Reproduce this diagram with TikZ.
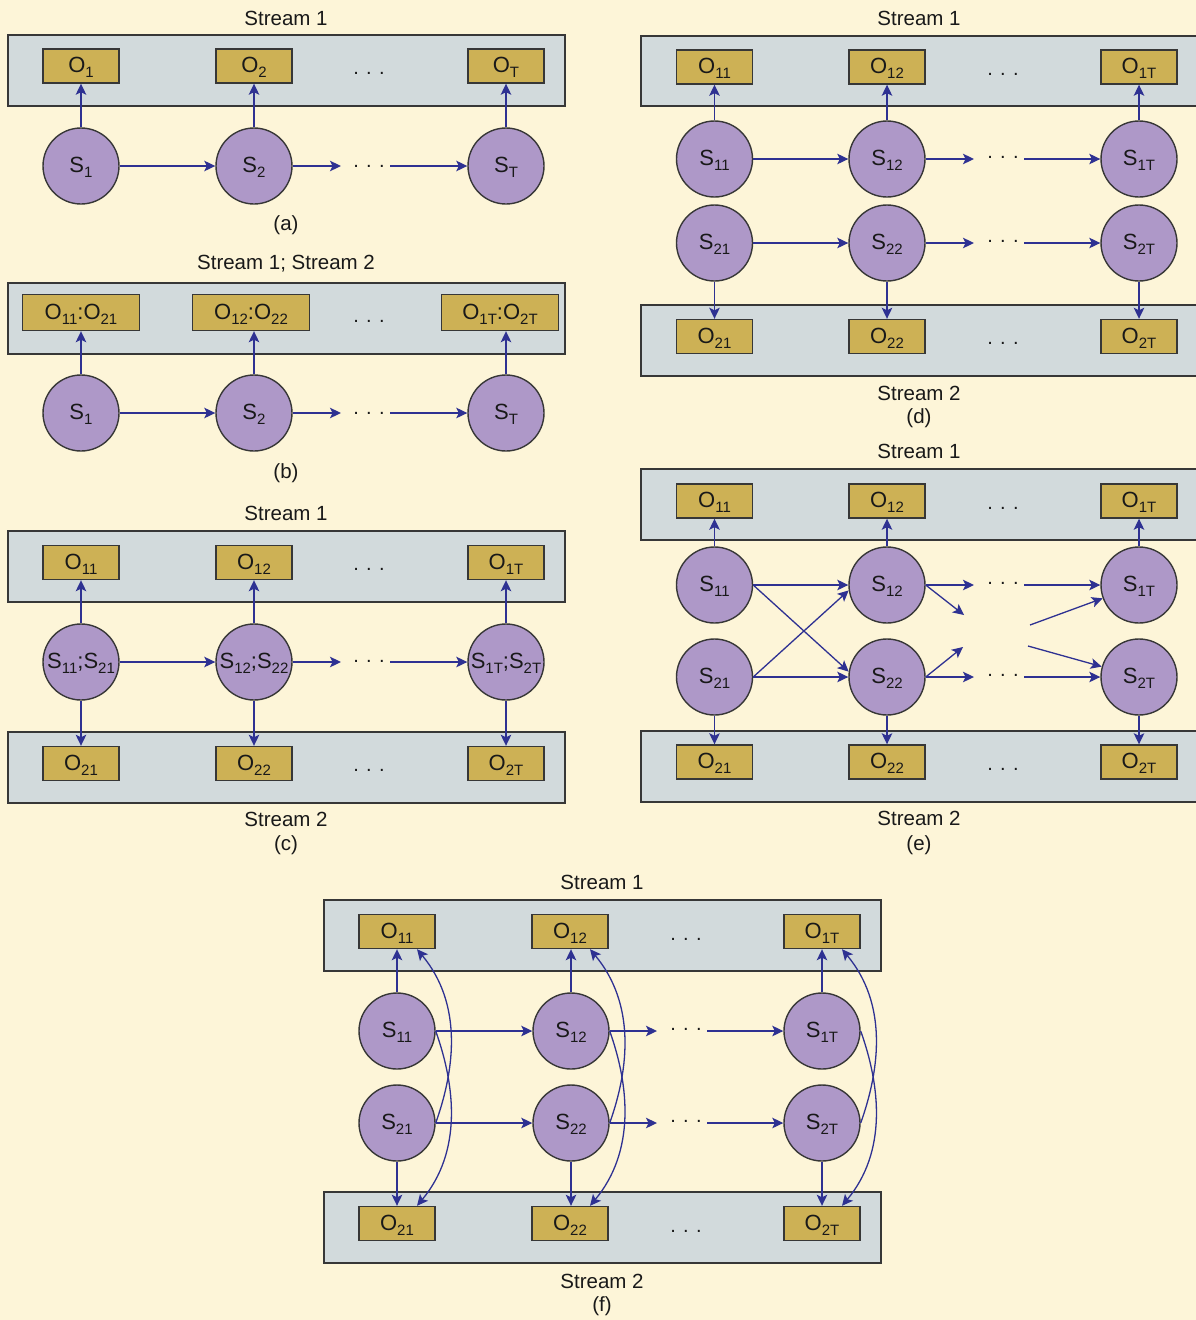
\documentclass[tikz,border=0pt]{standalone}
\usepackage{fontspec}
\setmainfont{Liberation Sans}
\usetikzlibrary{arrows.meta}
\definecolor{bgc}{RGB}{253,245,216}
\definecolor{gryc}{RGB}{210,218,220}
\definecolor{goldc}{RGB}{205,177,85}
\definecolor{lavc}{RGB}{174,152,200}
\definecolor{navyc}{RGB}{46,49,146}
\definecolor{edgec}{RGB}{55,55,55}
\newcommand\sbx[1]{\raisebox{-5pt}{\fontsize{15}{15}\selectfont #1}}
\begin{document}
\begin{tikzpicture}[x=1pt,y=-1pt,
 gbox/.style={fill=gryc,draw=edgec,line width=1.8pt},
 obox/.style={draw=edgec,fill=goldc,line width=1.4pt,minimum width=76pt,minimum height=34pt,inner sep=0pt,text height=15.8pt,text depth=2.5pt,font=\fontsize{22}{26}\selectfont,text=black!90},
 wbox/.style={obox,minimum width=117pt,minimum height=36pt},
 snode/.style={circle,draw=edgec,fill=lavc,line width=1.4pt,minimum size=76pt,inner sep=0pt,text height=15.8pt,text depth=2.5pt,font=\fontsize{22}{26}\selectfont,text=black!90},
 arr/.style={draw=navyc,line width=1.3pt,-{Stealth[length=11pt,width=10.5pt,inset=2.5pt]}},
 ttl/.style={font=\fontsize{20.5}{24}\selectfont,text=black!90},
 dts/.style={font=\fontsize{20}{24}\selectfont,anchor=base,inner sep=0pt,text=black!90}
]
\useasboundingbox (0,0) rectangle (1196,1320);
\fill[bgc] (0,0) rectangle (1196,1320);

% ---------------- (a)
\node[ttl] (aT) at (286,18) {Stream 1};
\draw[gbox] (8,35) rectangle (565,106);
\node[obox] (aO1) at (81,66) {O\sbx{1}};
\node[obox] (aO2) at (254,66) {O\sbx{2}};
\node[obox] (aOT) at (506,66) {O\sbx{T}};
\node[dts] (ad1) at (369,74.5) {. . .};
\node[snode] (aS1) at (81,166) {S\sbx{1}};
\node[snode] (aS2) at (254,166) {S\sbx{2}};
\node[snode] (aST) at (506,166) {S\sbx{T}};
\node[dts] (ad2) at (369,167.5) {. . .};
\coordinate (aA) at (341,166);
\coordinate (aB) at (390,166);
\draw[arr] (aS1) -- (aS2);
\draw[arr] (aS2) -- (aA);
\draw[arr] (aB) -- (aST);
\foreach \i in {1,2,T}{\draw[arr] (aS\i.north) -- (aS\i.north |- aO\i.south);}
\node[ttl] (aL) at (286,225) {(a)};

% ---------------- (b)
\node[ttl] (bT) at (286,264) {Stream 1; Stream 2};
\draw[gbox] (8,283) rectangle (565,354);
\node[wbox] (bO1) at (81,312.5) {O\sbx{11}:O\sbx{21}};
\node[wbox] (bO2) at (251,312.5) {O\sbx{12}:O\sbx{22}};
\node[wbox] (bOT) at (500,312.5) {O\sbx{1T}:O\sbx{2T}};
\node[dts] (bd1) at (369,322.5) {. . .};
\node[snode] (bS1) at (81,413) {S\sbx{1}};
\node[snode] (bS2) at (254,413) {S\sbx{2}};
\node[snode] (bST) at (506,413) {S\sbx{T}};
\node[dts] (bd2) at (369,414.5) {. . .};
\coordinate (bA) at (341,413);
\coordinate (bB) at (390,413);
\draw[arr] (bS1) -- (bS2);
\draw[arr] (bS2) -- (bA);
\draw[arr] (bB) -- (bST);
\foreach \i in {1,2,T}{\draw[arr] (bS\i.north) -- (bS\i.north |- bO\i.south);}
\node[ttl] (bL) at (286,473) {(b)};

% ---------------- (c)
\node[ttl] (cT) at (286,513) {Stream 1};
\draw[gbox] (8,531) rectangle (565,602);
\draw[gbox] (8,732) rectangle (565,803);
\node[obox] (cO1) at (81,562.5) {O\sbx{11}};
\node[obox] (cO2) at (254,562.5) {O\sbx{12}};
\node[obox] (cOT) at (506,562.5) {O\sbx{1T}};
\node[dts] (cd1) at (369,570.5) {. . .};
\node[snode] (cS1) at (81,662) {S\sbx{11};S\sbx{21}};
\node[snode] (cS2) at (254,662) {S\sbx{12};S\sbx{22}};
\node[snode] (cST) at (506,662) {S\sbx{1T};S\sbx{2T}};
\node[dts] (cd2) at (369,662.5) {. . .};
\node[obox] (cP1) at (81,763.5) {O\sbx{21}};
\node[obox] (cP2) at (254,763.5) {O\sbx{22}};
\node[obox] (cPT) at (506,763.5) {O\sbx{2T}};
\node[dts] (cd3) at (369,771.5) {. . .};
\coordinate (cA) at (341,662);
\coordinate (cB) at (390,662);
\draw[arr] (cS1) -- (cS2);
\draw[arr] (cS2) -- (cA);
\draw[arr] (cB) -- (cST);
\foreach \i in {1,2,T}{
  \draw[arr] (cS\i.north) -- (cS\i.north |- cO\i.south);
  \draw[arr] (cS\i.south) -- (cS\i.south |- cP\i.north);}
\node[ttl] (cU) at (286,819) {Stream 2};
\node[ttl] (cL) at (286,845) {(c)};

% ---------------- (d)
\node[ttl] (dT) at (919,18) {Stream 1};
\fill[gryc] (641,36) rectangle (1197,106);
\draw[edgec,line width=1.8pt] (1197,36) -- (641,36) -- (641,106) -- (1197,106);
\fill[gryc] (641,305) rectangle (1197,376);
\draw[edgec,line width=1.8pt] (1197,305) -- (641,305) -- (641,376) -- (1197,376);
\node[obox] (dO1) at (714.5,67) {O\sbx{11}};
\node[obox] (dO2) at (887,67) {O\sbx{12}};
\node[obox] (dOT) at (1139,67) {O\sbx{1T}};
\node[dts] (dd1) at (1003,75) {. . .};
\node[snode] (dS1) at (714.5,159) {S\sbx{11}};
\node[snode] (dS2) at (887,159) {S\sbx{12}};
\node[snode] (dST) at (1139,159) {S\sbx{1T}};
\node[dts] (dd2) at (1003,158.5) {. . .};
\node[snode] (dR1) at (714.5,243) {S\sbx{21}};
\node[snode] (dR2) at (887,243) {S\sbx{22}};
\node[snode] (dRT) at (1139,243) {S\sbx{2T}};
\node[dts] (dd3) at (1003,242.5) {. . .};
\node[obox] (dP1) at (714.5,336.5) {O\sbx{21}};
\node[obox] (dP2) at (887,336.5) {O\sbx{22}};
\node[obox] (dPT) at (1139,336.5) {O\sbx{2T}};
\node[dts] (dd4) at (1003,344.5) {. . .};
\coordinate (dA) at (974,159);
\coordinate (dB) at (1024,159);
\coordinate (dC) at (974,243);
\coordinate (dD) at (1024,243);
\draw[arr] (dS1) -- (dS2);
\draw[arr] (dS2) -- (dA);
\draw[arr] (dB) -- (dST);
\draw[arr] (dR1) -- (dR2);
\draw[arr] (dR2) -- (dC);
\draw[arr] (dD) -- (dRT);
\foreach \i in {1,2,T}{
  \draw[arr] (dS\i.north) -- (dS\i.north |- dO\i.south);
  \draw[arr] (dR\i.south) -- (dR\i.south |- dP\i.north);}
\node[ttl] (dU) at (919,393) {Stream 2};
\node[ttl] (dL) at (919,418) {(d)};

% ---------------- (e)
\node[ttl] (eT) at (919,451) {Stream 1};
\fill[gryc] (641,469) rectangle (1197,540);
\draw[edgec,line width=1.8pt] (1197,469) -- (641,469) -- (641,540) -- (1197,540);
\fill[gryc] (641,731) rectangle (1197,802);
\draw[edgec,line width=1.8pt] (1197,731) -- (641,731) -- (641,802) -- (1197,802);
\node[obox] (eO1) at (714.5,501) {O\sbx{11}};
\node[obox] (eO2) at (887,501) {O\sbx{12}};
\node[obox] (eOT) at (1139,501) {O\sbx{1T}};
\node[dts] (ed1) at (1003,509.5) {. . .};
\node[snode] (eS1) at (714.5,585) {S\sbx{11}};
\node[snode] (eS2) at (887,585) {S\sbx{12}};
\node[snode] (eST) at (1139,585) {S\sbx{1T}};
\node[dts] (ed2) at (1003,584.5) {. . .};
\node[snode] (eR1) at (714.5,677) {S\sbx{21}};
\node[snode] (eR2) at (887,677) {S\sbx{22}};
\node[snode] (eRT) at (1139,677) {S\sbx{2T}};
\node[dts] (ed3) at (1003,676.5) {. . .};
\node[obox] (eP1) at (714.5,762) {O\sbx{21}};
\node[obox] (eP2) at (887,762) {O\sbx{22}};
\node[obox] (ePT) at (1139,762) {O\sbx{2T}};
\node[dts] (ed4) at (1003,770.5) {. . .};
\coordinate (eA) at (974,585);
\coordinate (eB) at (1024,585);
\coordinate (eC) at (974,677);
\coordinate (eD) at (1024,677);
\coordinate (eE) at (964,615);
\coordinate (eF) at (963,647);
\coordinate (eG) at (1030,625);
\coordinate (eH) at (1028,646);
\draw[arr] (eS1) -- (eS2);
\draw[arr] (eR1) -- (eR2);
\draw[arr] (eS1.east) -- (eR2.172);
\draw[arr] (eR1.east) -- (eS2.188);
\draw[arr] (eS2) -- (eA);
\draw[arr] (eB) -- (eST);
\draw[arr] (eR2) -- (eC);
\draw[arr] (eD) -- (eRT);
\draw[arr] (eS2.east) -- (eE);
\draw[arr] (eR2.east) -- (eF);
\draw[arr] (eG) -- (eST);
\draw[arr] (eH) -- (eRT);
\foreach \i in {1,2,T}{
  \draw[arr] (eS\i.north) -- (eS\i.north |- eO\i.south);
  \draw[arr] (eR\i.south) -- (eR\i.south |- eP\i.north);}
\node[ttl] (eU) at (919,818) {Stream 2};
\node[ttl] (eL) at (919,845) {(e)};

% ---------------- (f)
\node[ttl] (fT) at (602,882) {Stream 1};
\draw[gbox] (324,900) rectangle (881,971);
\draw[gbox] (324,1192) rectangle (881,1263);
\node[obox] (fO1) at (397,931.5) {O\sbx{11}};
\node[obox] (fO2) at (570,931.5) {O\sbx{12}};
\node[obox] (fOT) at (822,931.5) {O\sbx{1T}};
\node[dts] (fd1) at (686,940) {. . .};
\node[snode] (fS1) at (397,1031) {S\sbx{11}};
\node[snode] (fS2) at (571,1031) {S\sbx{12}};
\node[snode] (fST) at (822,1031) {S\sbx{1T}};
\node[dts] (fd2) at (686,1030.5) {. . .};
\node[snode] (fR1) at (397,1123) {S\sbx{21}};
\node[snode] (fR2) at (571,1123) {S\sbx{22}};
\node[snode] (fRT) at (822,1123) {S\sbx{2T}};
\node[dts] (fd3) at (686,1122.5) {. . .};
\node[obox] (fP1) at (397,1223.5) {O\sbx{21}};
\node[obox] (fP2) at (570,1223.5) {O\sbx{22}};
\node[obox] (fPT) at (822,1223.5) {O\sbx{2T}};
\node[dts] (fd4) at (686,1232) {. . .};
\coordinate (fA) at (657,1031);
\coordinate (fB) at (707,1031);
\coordinate (fC) at (657,1123);
\coordinate (fD) at (707,1123);
\draw[arr] (fS1) -- (fS2);
\draw[arr] (fS2) -- (fA);
\draw[arr] (fB) -- (fST);
\draw[arr] (fR1) -- (fR2);
\draw[arr] (fR2) -- (fC);
\draw[arr] (fD) -- (fRT);
\foreach \i in {1,2,T}{
  \draw[arr] (fS\i.north) -- (fS\i.north |- fO\i.south);
  \draw[arr] (fR\i.south) -- (fR\i.south |- fP\i.north);
  \draw[arr] (fS\i.east) .. controls +(20,56) and +(45,-54) .. ([xshift=20pt]fP\i.north);
  \draw[arr] (fR\i.east) .. controls +(20,-56) and +(45,54) .. ([xshift=20pt]fO\i.south);}
\node[ttl] (fU) at (602,1281) {Stream 2};
\node[ttl] (fL) at (602,1306) {(f)};
\end{tikzpicture}
\end{document}
